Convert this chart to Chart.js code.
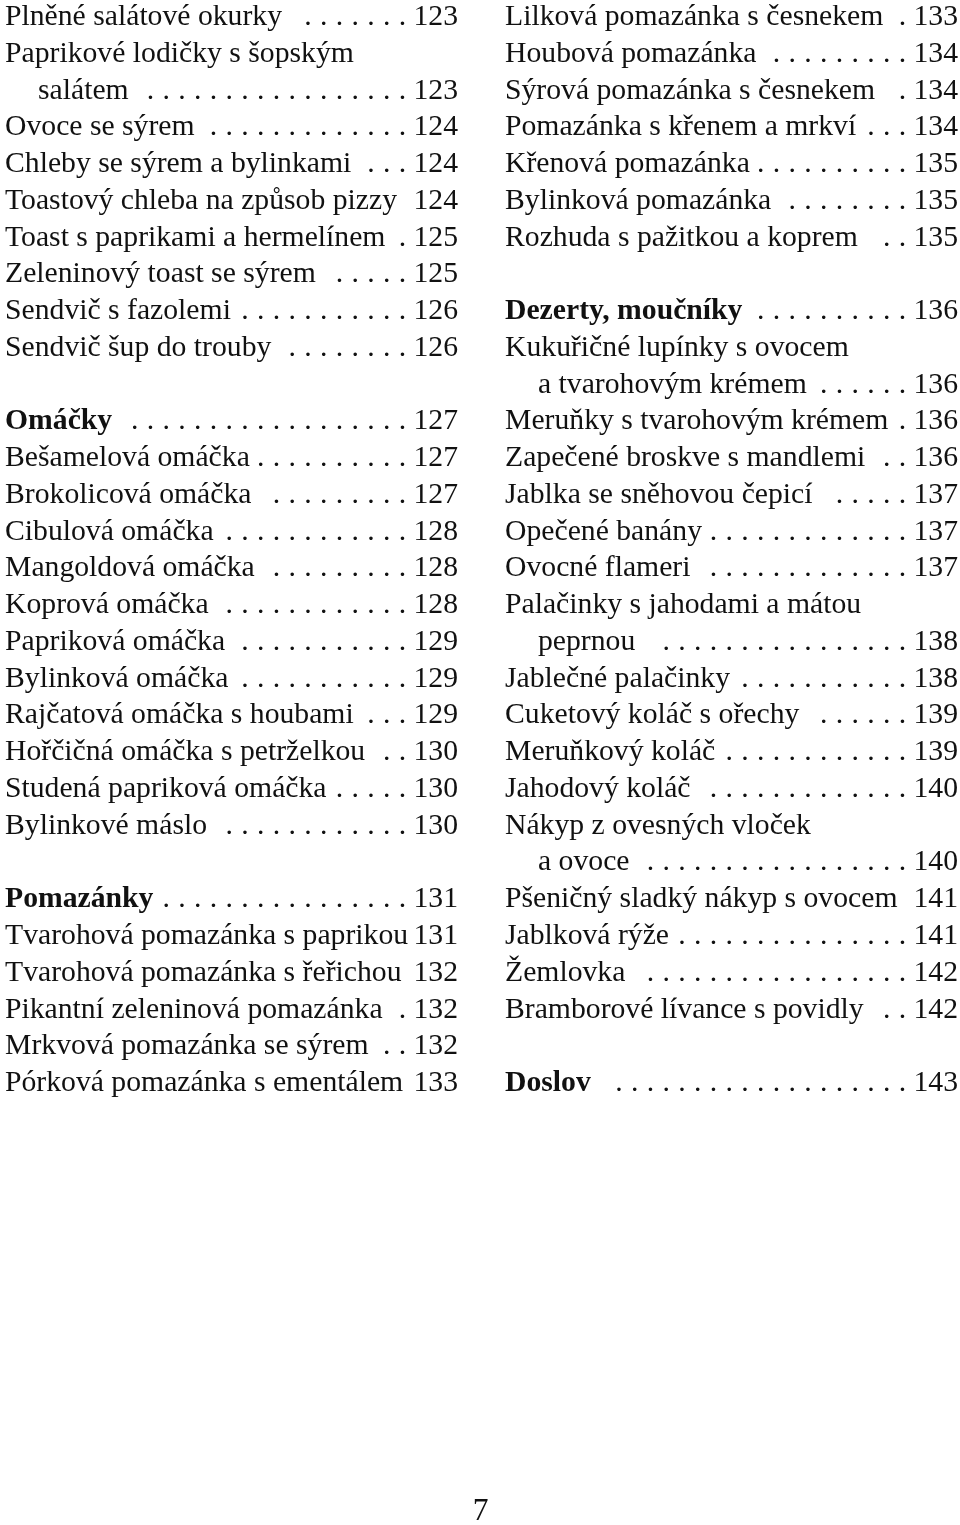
<!DOCTYPE html>
<html>
<head>
<meta charset="utf-8">
<script src="https://cdn.jsdelivr.net/npm/chart.js@4/dist/chart.umd.min.js"></script>
<style>
  html, body { margin: 0; padding: 0; background: #fff; }
  #toc { display: block; }
</style>
</head>
<body>
<canvas id="toc" width="960" height="1525"></canvas>
<script>
// ─── Data ─────────────────────────────────────────────────────────────────────
// null = empty line, '\n' = entry wraps onto an indented second line

const leftTitles = [
  'Plněné salátové okurky',
  'Paprikové lodičky s šopským\nsalátem',
  'Ovoce se sýrem',
  'Chleby se sýrem a bylinkami',
  'Toastový chleba na způsob pizzy',
  'Toast s paprikami a hermelínem',
  'Zeleninový toast se sýrem',
  'Sendvič s fazolemi',
  'Sendvič šup do trouby',
  null,
  'Omáčky',
  'Bešamelová omáčka',
  'Brokolicová omáčka',
  'Cibulová omáčka',
  'Mangoldová omáčka',
  'Koprová omáčka',
  'Papriková omáčka',
  'Bylinková omáčka',
  'Rajčatová omáčka s houbami',
  'Hořčičná omáčka s petrželkou',
  'Studená papriková omáčka',
  'Bylinkové máslo',
  null,
  'Pomazánky',
  'Tvarohová pomazánka s paprikou',
  'Tvarohová pomazánka s řeřichou',
  'Pikantní zeleninová pomazánka',
  'Mrkvová pomazánka se sýrem',
  'Pórková pomazánka s ementálem',
];
const leftPages = [
  123, 123, 124, 124, 124, 125, 125, 126, 126, null,
  127, 127, 127, 128, 128, 128, 129, 129, 129, 130, 130, 130, null,
  131, 131, 132, 132, 132, 133,
];
// number of leader dots before each page number
const leftDots = [
  7, 17, 13, 3, 0, 1, 5, 11, 8, null,
  18, 10, 9, 12, 9, 12, 11, 11, 3, 2, 5, 12, null,
  16, 0, 0, 1, 2, 0,
];

const rightTitles = [
  'Lilková pomazánka s česnekem',
  'Houbová pomazánka',
  'Sýrová pomazánka s česnekem',
  'Pomazánka s křenem a mrkví',
  'Křenová pomazánka',
  'Bylinková pomazánka',
  'Rozhuda s pažitkou a koprem',
  null,
  'Dezerty, moučníky',
  'Kukuřičné lupínky s ovocem\na tvarohovým krémem',
  'Meruňky s tvarohovým krémem',
  'Zapečené broskve s mandlemi',
  'Jablka se sněhovou čepicí',
  'Opečené banány',
  'Ovocné flameri',
  'Palačinky s jahodami a mátou\npeprnou',
  'Jablečné palačinky',
  'Cuketový koláč s ořechy',
  'Meruňkový koláč',
  'Jahodový koláč',
  'Nákyp z ovesných vloček\na ovoce',
  'Pšeničný sladký nákyp s ovocem',
  'Jablková rýže',
  'Žemlovka',
  'Bramborové lívance s povidly',
  null,
  'Doslov',
];
const rightPages = [
  133, 134, 134, 134, 135, 135, 135, null,
  136, 136, 136, 136, 137, 137, 137, 138, 138, 139, 139, 140, 140, 141, 141, 142, 142, null,
  143,
];
const rightDots = [
  1, 9, 1, 3, 10, 8, 2, null,
  10, 6, 1, 2, 5, 13, 13, 16, 11, 6, 12, 13, 17, 0, 15, 17, 2, null,
  19,
];

const headings = ['Omáčky', 'Pomazánky', 'Dezerty, moučníky', 'Doslov'];
const folio = '7';

// ─── Layout ───────────────────────────────────────────────────────────────────

const FONT      = '"Liberation Serif", "Times New Roman", serif';
const SIZE      = 29.7;
const FOLIO_SZ  = 31.5;
const COL_W     = 0.906;   // column width in x units (1 unit = column pitch)
const INDENT    = 33;      // px, wrapped line indent
const DOT_SEP   = 15.75;   // px between leader dots
const DOT_END   = 55.5;    // px from right edge to last dot
const INK       = '#111';

function buildLines(titles, pages, dots, col) {
  const out = [];
  let line = 0;
  titles.forEach((t, i) => {
    if (t === null) { line++; return; }
    const parts = t.split('\n');
    parts.forEach((p, k) => {
      const last = k === parts.length - 1;
      out.push({
        x: col, y: line,
        text: p,
        indent: k > 0,
        page: last ? pages[i] : null,
        dots: last ? dots[i] : 0,
        bold: headings.includes(t),
      });
      line++;
    });
  });
  return out;
}

const tocText = {
  id: 'tocText',
  afterDatasetsDraw(chart) {
    const ctx = chart.ctx;
    const xs = chart.scales.x;
    ctx.save();
    ctx.fillStyle = INK;
    ctx.textBaseline = 'alphabetic';
    chart.data.datasets.forEach((ds, di) => {
      const meta = chart.getDatasetMeta(di);
      meta.data.forEach((pt, j) => {
        const e = ds.data[j];
        if (e.folio) {
          ctx.font = `${FOLIO_SZ}px ${FONT}`;
          ctx.textAlign = 'center';
          ctx.fillText(e.text, pt.x, pt.y);
          return;
        }
        const left  = pt.x + (e.indent ? INDENT : 0);
        const right = xs.getPixelForValue(e.x + COL_W);
        ctx.font = `${e.bold ? 'bold ' : ''}${SIZE}px ${FONT}`;
        ctx.textAlign = 'left';
        ctx.fillText(e.text, left, pt.y);
        if (e.page === null) return;
        ctx.font = `${SIZE}px ${FONT}`;
        ctx.textAlign = 'center';
        for (let k = 0; k < e.dots; k++) {
          ctx.fillText('.', right - DOT_END - k * DOT_SEP, pt.y);
        }
        ctx.textAlign = 'right';
        ctx.fillText(String(e.page), right, pt.y);
      });
    });
    ctx.restore();
  },
};

// ─── Render ───────────────────────────────────────────────────────────────────

new Chart(document.getElementById('toc'), {
  type: 'scatter',
  data: {
    datasets: [
      { data: buildLines(leftTitles, leftPages, leftDots, 0) },
      { data: buildLines(rightTitles, rightPages, rightDots, 1) },
      { data: [{ x: 0.951, y: 40.67, text: folio, folio: true }] },
    ],
  },
  options: {
    responsive: false,
    animation: false,
    events: [],
    layout: { padding: 0 },
    elements: { point: { radius: 0, hoverRadius: 0 } },
    scales: {
      x: { type: 'linear', display: false, min: -0.01, max: 1.91 },
      y: { type: 'linear', display: false, reverse: true, min: -0.680, max: 40.805 },
    },
    plugins: { legend: { display: false }, tooltip: { enabled: false } },
  },
  plugins: [tocText],
});
</script>
</body>
</html>
